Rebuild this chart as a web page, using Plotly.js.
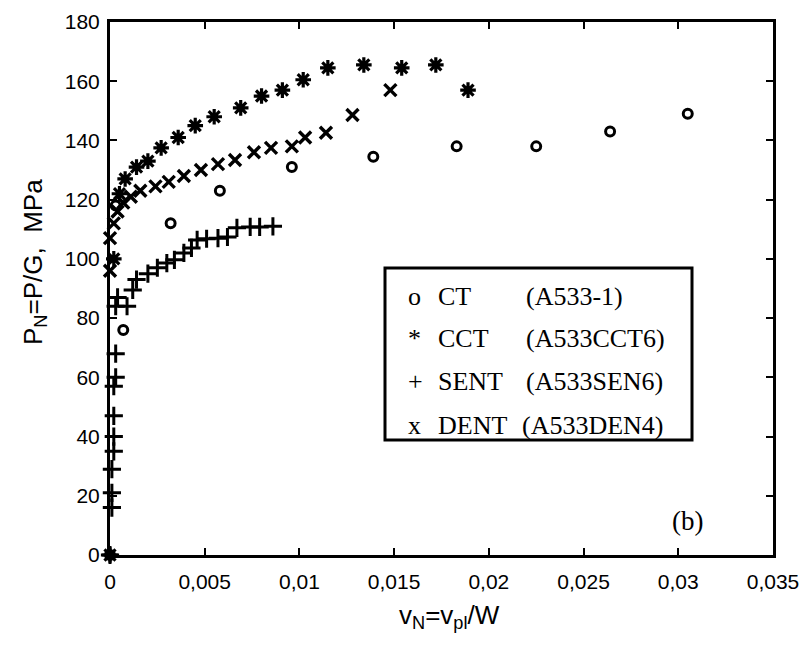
<!DOCTYPE html>
<html>
<head>
<meta charset="utf-8">
<script src="https://cdn.plot.ly/plotly-3.0.1.min.js"></script>
<style>html,body{margin:0;padding:0;background:#fff;}#chart{width:803px;height:656px;}</style>
</head>
<body>
<div id="chart"></div>
<script>
// ---- data ----
const ctX   = [0, 0.0003, 0.0007, 0.0032, 0.0058, 0.0096, 0.0139, 0.0183, 0.0225, 0.0264, 0.0305];
const ctY   = [0, 118, 76, 112, 123, 131, 134.5, 138, 138, 143, 149];

const cctX  = [0, 0.0002, 0.0005, 0.0008, 0.0014, 0.002, 0.0027, 0.0036, 0.0045, 0.0055, 0.0069, 0.008, 0.0091, 0.0102, 0.0115, 0.0134, 0.0154, 0.0172, 0.0189];
const cctY  = [0, 100, 122, 127, 131, 133, 137.5, 141, 145, 148, 151, 155, 157, 160.5, 164.5, 165.5, 164.5, 165.5, 157];

const sentX = [0, 0.0001, 0.0001, 0.0001, 0.0002, 0.0002, 0.0002, 0.0002, 0.0003, 0.0003, 0.0003, 0.0004, 0.0009, 0.0012, 0.0014, 0.002, 0.0025, 0.003, 0.0034, 0.0039, 0.0043, 0.0046, 0.0051, 0.0057, 0.0062, 0.0067, 0.0074, 0.0079, 0.0086];
const sentY = [0, 16, 21, 29, 35, 40, 47, 57, 60, 68, 84, 87, 84, 89.5, 93, 95, 97, 98.6, 99.7, 102, 103.7, 106.4, 106.8, 107, 107.4, 110.5, 110.8, 110.8, 111];

const dentX = [0, 0, 0.0002, 0.0004, 0.0007, 0.0011, 0.0016, 0.0024, 0.0031, 0.0039, 0.0048, 0.0057, 0.0066, 0.0076, 0.0085, 0.0096, 0.0103, 0.0114, 0.0128, 0.0148];
const dentY = [96, 107, 112, 116, 119, 121, 123, 124.5, 126, 128, 130, 132, 133.4, 136, 137.5, 138, 141, 142.6, 148.6, 157];

const xTickVals = [0, 0.005, 0.01, 0.015, 0.02, 0.025, 0.03, 0.035];
const xTickText = ["0", "0,005", "0,01", "0,015", "0,02", "0,025", "0,03", "0,035"];
const yTickVals = [0, 20, 40, 60, 80, 100, 120, 140, 160, 180];

const legendSym   = ["o", "*", "+", "x"];
const legendName  = ["CT", "CCT", "SENT", "DENT"];
const legendSpec  = ["(A533-1)", "(A533CCT6)", "(A533SEN6)", "(A533DEN4)"];

const xTitle = 'v<sub>N</sub>=v<sub>pl</sub>/W';
const yTitle = 'P<sub>N</sub>=P/G,  MPa';

// ---- chart ----
const mk = (sym, size, w) => ({symbol: sym, size: size, color: 'black', line: {color: 'black', width: w}});
const traces = [
  {x: ctX, y: ctY, mode: 'markers', type: 'scatter', marker: mk('circle-open', 9, 3), cliponaxis: false},
  {x: cctX, y: cctY, mode: 'markers', type: 'scatter', marker: mk('asterisk-open', 13, 3.2), cliponaxis: false},
  {x: sentX, y: sentY, mode: 'markers', type: 'scatter', marker: mk('cross-thin-open', 13, 3), cliponaxis: false},
  {x: dentX, y: dentY, mode: 'markers', type: 'scatter', marker: mk('x-thin-open', 12, 3.4), cliponaxis: false}
];

const L = 110, R = 773, T = 22, B = 555;
const px = v => (v - L) / (R - L);
const py = v => (B - v) / (B - T);

const serif = {family: 'Liberation Serif', size: 26, color: 'black'};
const rowY = [296, 338, 381, 425];
const annotations = [];
rowY.forEach((yy, i) => {
  annotations.push({xref: 'paper', yref: 'paper', x: px(406), y: py(yy), xanchor: 'left', yanchor: 'middle', text: legendSym[i], showarrow: false, font: serif});
  annotations.push({xref: 'paper', yref: 'paper', x: px(436), y: py(yy), xanchor: 'left', yanchor: 'middle', text: legendName[i], showarrow: false, font: serif});
  annotations.push({xref: 'paper', yref: 'paper', x: px(i === 3 ? 520 : 524), y: py(yy), xanchor: 'left', yanchor: 'middle', text: legendSpec[i], showarrow: false, font: serif});
});
annotations.push({xref: 'paper', yref: 'paper', x: px(687), y: py(521), xanchor: 'center', yanchor: 'middle', text: '(b)', showarrow: false, font: {family: 'Liberation Serif', size: 27, color: 'black'}});
annotations.push({xref: 'paper', yref: 'paper', x: px(449), y: py(598), xanchor: 'center', yanchor: 'top', text: xTitle, showarrow: false, font: {family: 'Liberation Sans', size: 26, color: 'black'}});
annotations.push({xref: 'paper', yref: 'paper', x: px(34), y: py(262), xanchor: 'center', yanchor: 'middle', textangle: -90, text: yTitle, showarrow: false, font: {family: 'Liberation Sans', size: 26, color: 'black'}});

const axisCommon = {
  showgrid: false, zeroline: false, showline: true, linecolor: 'black', linewidth: 3, mirror: 'ticks',
  ticks: 'inside', ticklen: 7, tickwidth: 2, tickcolor: 'black',
  tickfont: {family: 'Liberation Sans', size: 21, color: 'black'}
};

const layout = {
  width: 803, height: 656,
  margin: {l: L, r: 803 - R, t: T, b: 656 - B},
  paper_bgcolor: 'white', plot_bgcolor: 'white',
  showlegend: false,
  xaxis: Object.assign({}, axisCommon, {range: [0, 0.035], tickvals: xTickVals, ticktext: xTickText, ticklabelstandoff: 6}),
  yaxis: Object.assign({}, axisCommon, {range: [0, 180], tickvals: yTickVals, ticklabelstandoff: 3}),
  shapes: [{type: 'rect', xref: 'paper', yref: 'paper', x0: px(385), x1: px(692), y0: py(440), y1: py(268), line: {color: 'black', width: 3}, fillcolor: 'white', layer: 'below'}],
  annotations: annotations
};

Plotly.newPlot('chart', traces, layout, {displayModeBar: false, staticPlot: true});
</script>
</body>
</html>
